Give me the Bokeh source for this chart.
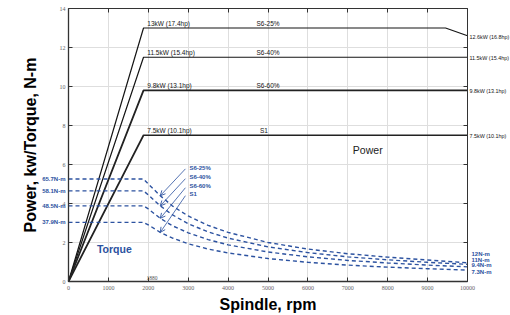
from bokeh.plotting import figure
from bokeh.models import (Range1d, LinearAxis, FixedTicker, LabelSet, Label,
                          ColumnDataSource, Arrow, OpenHead)
from bokeh.core.properties import value
from bokeh.embed import file_html
from bokeh.resources import INLINE

# ---------------- data ----------------
duty_names = ["S6-25%", "S6-40%", "S6-60%", "S1"]

rpm_power_s6_25 = [0, 1880, 9450, 10000]
power_s6_25 = [0, 13.0, 13.0, 12.6]
rpm_power = [0, 1880, 10000]
power_s6_40 = [0, 11.5, 11.5]
power_s6_60 = [0, 9.8, 9.8]
power_s1 = [0, 7.5, 7.5]

rpm_torque = [0, 1880, 2000, 2300, 2600, 3000, 3500, 4000, 5000, 6000, 7000, 8000, 9000, 10000]
torque_s6_25 = [65.7, 65.7, 62.5, 55.0, 48.5, 42.0, 36.0, 31.5, 25.0, 20.8, 17.8, 15.6, 13.8, 12.0]
torque_s6_40 = [58.1, 58.1, 55.5, 48.5, 42.8, 37.0, 31.8, 27.8, 22.2, 18.5, 15.8, 13.9, 12.3, 11.0]
torque_s6_60 = [48.5, 48.5, 46.5, 40.5, 35.8, 31.2, 26.8, 23.5, 18.9, 15.8, 13.5, 11.9, 10.5, 9.4]
torque_s1 = [37.9, 37.9, 36.3, 31.5, 27.9, 24.2, 20.8, 18.3, 14.7, 12.3, 10.5, 9.2, 8.2, 7.3]

power_start_labels = ["13kW (17.4hp)", "11.5kW (15.4hp)", "9.8kW (13.1hp)", "7.5kW (10.1hp)"]
power_end_labels = ["12.6kW (16.8hp)", "11.5kW (15.4hp)", "9.8kW (13.1hp)", "7.5kW (10.1hp)"]
torque_start_labels = ["65.7N-m", "58.1N-m", "48.5N-m", "37.9N-m"]
torque_end_labels = ["12N-m", "11N-m", "9.4N-m", "7.3N-m"]

x_ticks = [0, 1000, 2000, 3000, 4000, 5000, 6000, 7000, 8000, 9000, 10000]
y_ticks = [0, 2, 4, 6, 8, 10, 12, 14]
base_speed = 1880
torque_per_kw_unit = 12.5   # torque (N-m) drawn on the same frame: 1 grid unit = 12.5 N-m

# ---------------- layout / style ----------------
W, H = 510, 315
BOX_L, BOX_R, BOX_T, BOX_B = 68, 467, 8, 281      # pixel box of the axes
X0, X1, Y0, Y1 = 0, 10000, 0, 14
sx = (BOX_R - BOX_L) / (X1 - X0)
sy = (BOX_B - BOX_T) / (Y1 - Y0)
xr = Range1d(X0 - BOX_L / sx, X1 + (W - BOX_R) / sx)
yr = Range1d(Y0 - (H - BOX_B) / sy, Y1 + BOX_T / sy)

BLUE = "#2c52a0"
BLACK = "#151515"
AXC = "#333333"
FONT = "Liberation Sans"
TICKFONT = "Liberation Serif"

p = figure(width=W, height=H, x_range=xr, y_range=yr,
           output_backend="svg", toolbar_location=None,
           min_border_left=0, min_border_right=0, min_border_top=0, min_border_bottom=0)
p.extra_y_ranges = {"torque": Range1d(yr.start * torque_per_kw_unit, yr.end * torque_per_kw_unit)}
p.background_fill_color = "white"
p.outline_line_color = None

xa = p.below[0]
ya = p.left[0]
xa.fixed_location = Y0
ya.fixed_location = X0
xa.bounds = (X0, X1)
ya.bounds = (Y0, Y1)
for ax, ticks in ((xa, x_ticks), (ya, y_ticks)):
    ax.ticker = FixedTicker(ticks=ticks)
    ax.major_tick_in = 4
    ax.major_tick_out = 0
    ax.minor_tick_line_color = None
    ax.major_label_text_font = TICKFONT
    ax.major_label_text_font_size = "6px"
    ax.major_label_text_color = "#666666"
    ax.axis_line_color = AXC
    ax.axis_line_width = 1.3
    ax.major_tick_line_color = AXC
    ax.axis_label_text_font = FONT
    ax.axis_label_text_font_size = "16px"
    ax.axis_label_text_font_style = "bold"
    ax.axis_label_text_color = "#000000"
xa.axis_label = "Spindle, rpm"
xa.major_label_standoff = 4
xa.axis_label_standoff = 3
ya.axis_label = "Power, kw/Torque, N-m"
ya.major_label_standoff = 3
ya.axis_label_standoff = 18

# box edges on top and right with inward ticks (no labels)
top = LinearAxis(ticker=FixedTicker(ticks=x_ticks), fixed_location=Y1, bounds=(X0, X1),
                 major_label_overrides={t: "" for t in x_ticks},
                 major_tick_in=4, major_tick_out=0, minor_tick_line_color=None,
                 axis_line_color=AXC, major_tick_line_color=AXC)
right = LinearAxis(ticker=FixedTicker(ticks=y_ticks), fixed_location=X1, bounds=(Y0, Y1),
                   major_label_overrides={t: "" for t in y_ticks},
                   major_tick_in=4, major_tick_out=0, minor_tick_line_color=None,
                   axis_line_color=AXC, major_tick_line_color=AXC)
p.add_layout(top, "above")
p.add_layout(right, "right")

# ---------------- grid ----------------
p.xgrid.ticker = FixedTicker(ticks=x_ticks)
p.ygrid.ticker = FixedTicker(ticks=y_ticks)
p.grid.grid_line_color = "#dedede"
p.grid.grid_line_width = 1
if hasattr(p.xgrid[0], "cross_bounds"):
    p.xgrid[0].cross_bounds = (Y0, Y1)
    p.ygrid[0].cross_bounds = (X0, X1)
else:
    p.grid.visible = False
    p.segment(x0=x_ticks, y0=[Y0] * len(x_ticks), x1=x_ticks, y1=[Y1] * len(x_ticks),
              color="#dedede", line_width=1, level="underlay")
    p.segment(x0=[X0] * len(y_ticks), y0=y_ticks, x1=[X1] * len(y_ticks), y1=y_ticks,
              color="#dedede", line_width=1, level="underlay")

# ---------------- power curves ----------------
p.line(rpm_power_s6_25, power_s6_25, color=BLACK, line_width=1.2)
p.line(rpm_power, power_s6_40, color=BLACK, line_width=1.2)
p.line(rpm_power, power_s6_60, color="#222222", line_width=1.8)
p.line(rpm_power, power_s1, color="#222222", line_width=1.7)

power_series = [power_s6_25, power_s6_40, power_s6_60, power_s1]
peak_power = [s[1] for s in power_series]
end_power = [s[-1] for s in power_series]

src_pstart = ColumnDataSource(dict(x=[2000] * 4, y=peak_power, text=power_start_labels))
p.add_layout(LabelSet(source=src_pstart, x="x", y="y", text="text", x_offset=-1, y_offset=1,
                      text_font=value(FONT), text_font_size="6.5px", text_color=BLACK,
                      text_align="left", text_baseline="bottom"))
src_pmid = ColumnDataSource(dict(x=[5000, 5000, 5000, 4900], y=peak_power, text=duty_names))
p.add_layout(LabelSet(source=src_pmid, x="x", y="y", text="text", y_offset=1,
                      text_font=value(FONT), text_font_size="6.5px", text_color=BLACK,
                      text_align="center", text_baseline="bottom"))
src_pend = ColumnDataSource(dict(x=[X1] * 4, y=end_power, text=power_end_labels))
p.add_layout(LabelSet(source=src_pend, x="x", y="y", text="text", x_offset=2, y_offset=-1,
                      text_font=value(FONT), text_font_size="5.4px", text_color=BLACK,
                      text_align="left", text_baseline="middle"))

# ---------------- torque curves ----------------
torque_series = [torque_s6_25, torque_s6_40, torque_s6_60, torque_s1]
for t in torque_series:
    p.line(rpm_torque, t, y_range_name="torque", color=BLUE, line_width=1.4, line_dash="4 3")

src_tstart = ColumnDataSource(dict(x=[X0] * 4, y=[t[0] for t in torque_series], text=torque_start_labels))
p.add_layout(LabelSet(source=src_tstart, x="x", y="y", text="text", y_range_name="torque",
                      x_offset=-3, text_font=value(FONT), text_font_size="6px", text_font_style="bold",
                      text_color=BLUE, text_align="right", text_baseline="middle"))
# end labels to the right of the box, staggered positions in N-m units
end_label_pos = [17.8, 13.9, 10.3, 6.4]
src_tend = ColumnDataSource(dict(x=[X1] * 4, y=end_label_pos, text=torque_end_labels))
p.add_layout(LabelSet(source=src_tend, x="x", y="y", text="text", y_range_name="torque",
                      x_offset=4, text_font=value(FONT), text_font_size="6px", text_font_style="bold",
                      text_color=BLUE, text_align="left", text_baseline="middle"))

# duty labels with arrows pointing to the torque curves
arrow_idx = rpm_torque.index(2300)
duty_label_y = [73.0, 66.7, 60.9, 55.8]
src_duty = ColumnDataSource(dict(x=[3030] * 4, y=duty_label_y, text=duty_names))
p.add_layout(LabelSet(source=src_duty, x="x", y="y", text="text", y_range_name="torque",
                      text_font=value(FONT), text_font_size="6px", text_font_style="bold",
                      text_color=BLUE, text_align="left", text_baseline="middle"))
for ly, t in zip(duty_label_y, torque_series):
    p.add_layout(Arrow(end=OpenHead(size=5, line_color=BLUE, line_width=0.9),
                       x_start=2930, y_start=ly - 0.8, x_end=rpm_torque[arrow_idx], y_end=t[arrow_idx],
                       y_range_name="torque", line_color=BLUE, line_width=0.8))

# ---------------- other texts ----------------
p.add_layout(Label(x=7500, y=6.75, text="Power", text_font=FONT, text_font_size="10.5px",
                   text_color="#222222", text_align="center", text_baseline="middle"))
p.add_layout(Label(x=1150, y=1.65, text="Torque", text_font=FONT, text_font_size="10.5px",
                   text_font_style="bold", text_color=BLUE, text_align="center", text_baseline="middle"))
p.add_layout(Label(x=base_speed, y=0, text=str(base_speed), x_offset=3, y_offset=2,
                   text_font=TICKFONT, text_font_size="5.5px", text_color="#555555",
                   text_align="left", text_baseline="bottom"))

open("out.html", "w").write(file_html(p, INLINE))
